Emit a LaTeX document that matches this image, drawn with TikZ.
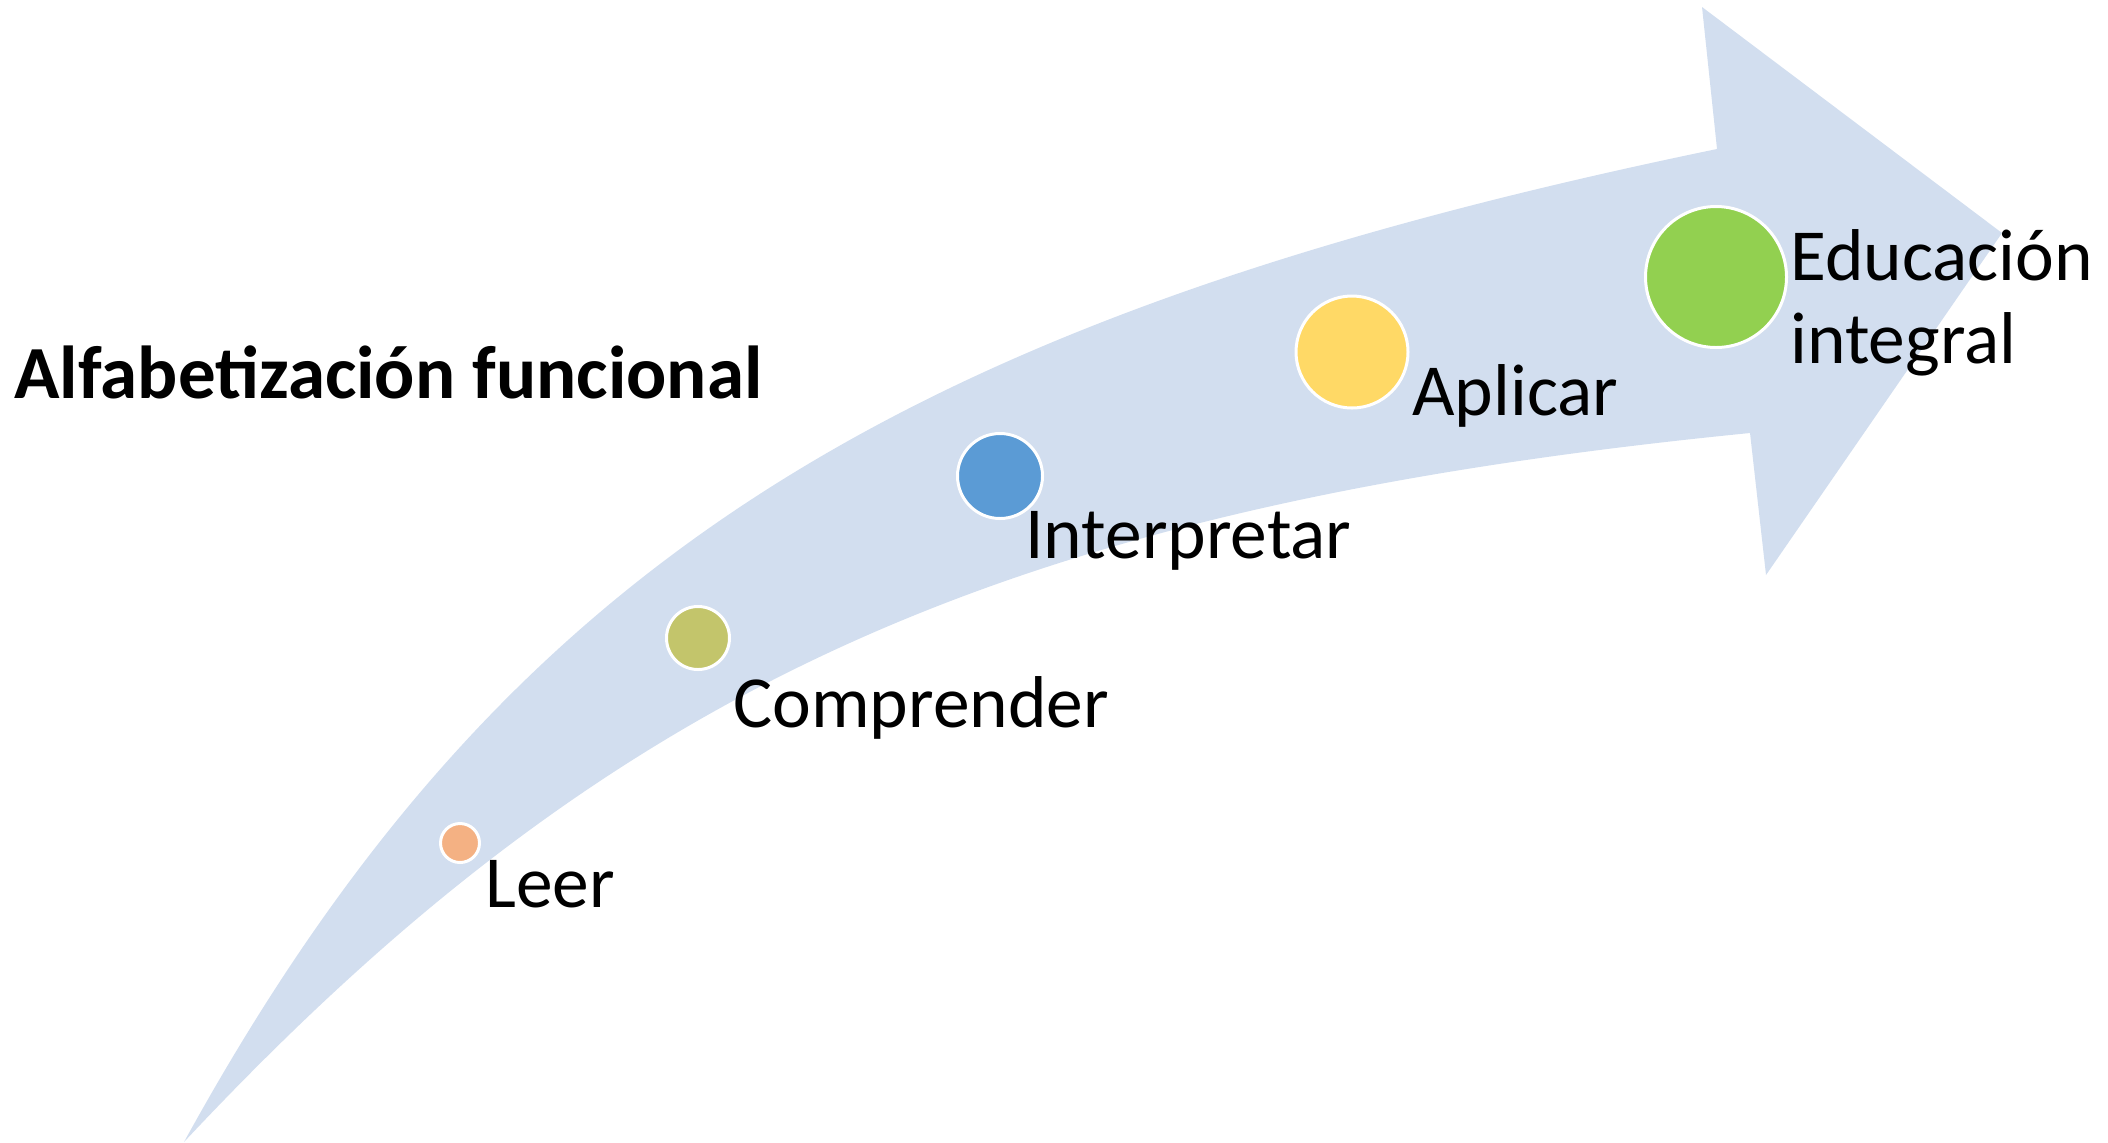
\documentclass[tikz,border=0pt]{standalone}
\usepackage{fontspec}
\setmainfont{Carlito}
\definecolor{arrowblue}{HTML}{D2DEEF}
\definecolor{cleer}{HTML}{F4B183}
\definecolor{ccomp}{HTML}{C3C56B}
\definecolor{cinter}{HTML}{5B9BD5}
\definecolor{caplic}{HTML}{FFD966}
\definecolor{cedu}{HTML}{92D050}
\begin{document}
\begin{tikzpicture}[x=0.5pt,y=-0.5pt,
  dot/.style={circle, draw=white, line width=1.5pt, inner sep=0pt},
  lbl/.style={anchor=base west, inner sep=0pt, font=\fontsize{36.7pt}{41.5pt}\selectfont, align=left},
  ttl/.style={anchor=base west, inner sep=0pt, font=\fontsize{37.5pt}{41.5pt}\selectfont\bfseries}]
\useasboundingbox (0,0) rectangle (2108,1142);
% curved arrow
\fill[arrowblue] (184,1142) .. controls (500,567) and (894,319) .. (1717,149)
  -- (1702,7) -- (2002,233) -- (1766,575) -- (1750,433)
  .. controls (1004,507) and (612,685) .. (184,1142) -- cycle;
% circles
\node[dot, fill=cleer, minimum size=19.5pt] (leer) at (460,843) {};
\node[dot, fill=ccomp, minimum size=31.5pt] (comp) at (698,638) {};
\node[dot, fill=cinter, minimum size=42.5pt] (inter) at (1000,476) {};
\node[dot, fill=caplic, minimum size=56pt] (aplic) at (1352,352) {};
\node[dot, fill=cedu, minimum size=70.5pt] (edu) at (1716,277) {};
% labels
\node[lbl] (tleer) at (485,907) {Leer};
\node[lbl] (tcomp) at (733,727) {Comprender};
\node[lbl] (tinter) at (1025,558) {Interpretar};
\node[lbl] (taplic) at (1412,415) {Aplicar};
\node[lbl] (tedu) at (1790,363) {Educación\\integral};
\node[ttl] (title) at (14,398) {Alfabetización funcional};
\end{tikzpicture}
\end{document}
